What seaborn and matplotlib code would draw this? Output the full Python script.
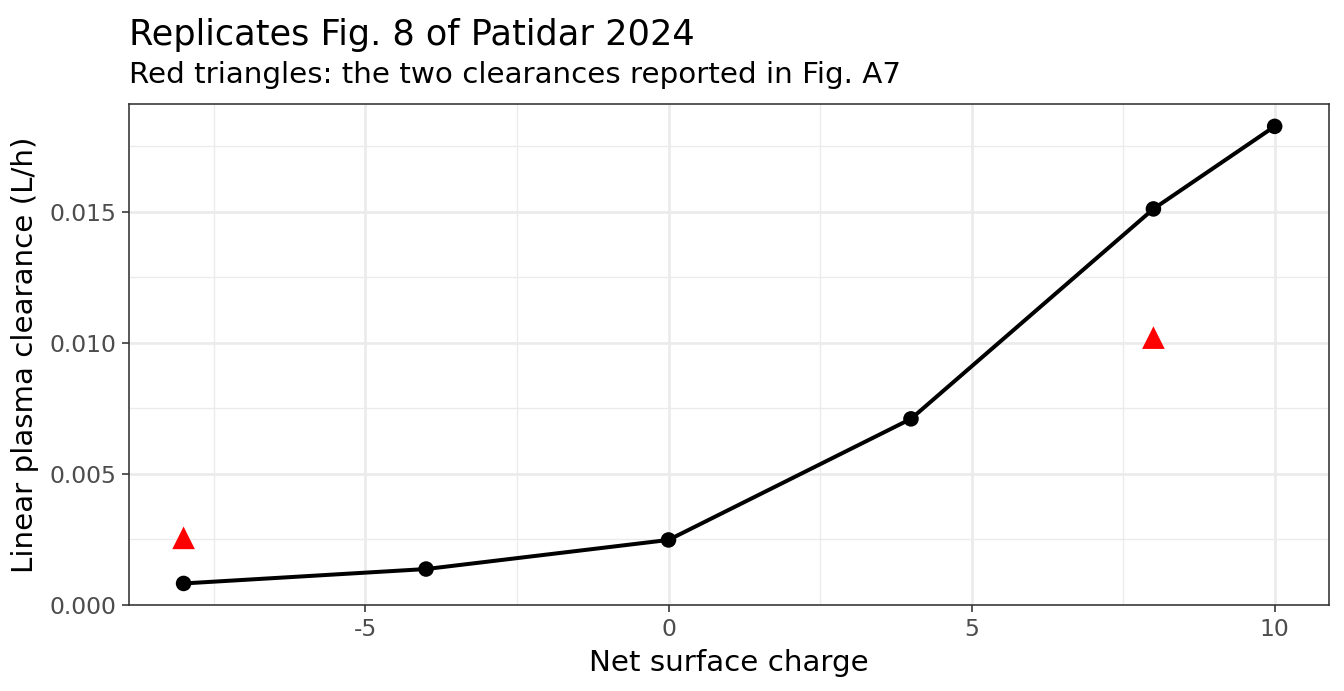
import seaborn as sns
import matplotlib.pyplot as plt
import pandas as pd
from matplotlib.ticker import MultipleLocator, FixedLocator

# values
charge = [-8, -4, 0, 4, 8, 10]
clearance = [0.00082, 0.00137, 0.00248, 0.0071, 0.01511, 0.01826]

reported_charge = [-8, 8]
reported_clearance = [0.00256, 0.0102]

x_ticks = [-5, 0, 5, 10]
y_ticks = [0.000, 0.005, 0.010, 0.015]

df = pd.DataFrame({'charge': charge, 'clearance': clearance})
df_rep = pd.DataFrame({'charge': reported_charge, 'clearance': reported_clearance})

sns.set_theme(style="white")
plt.rcParams['font.family'] = ['DejaVu Sans']
plt.rcParams['text.color'] = 'black'

fig = plt.figure(figsize=(7, 3.6), dpi=192)
ax = fig.add_axes([0.096, 0.1245, 0.893, 0.725])

sns.lineplot(data=df, x='charge', y='clearance', color='black',
             linewidth=1.5, ax=ax, zorder=3)
sns.scatterplot(data=df, x='charge', y='clearance', color='black',
                s=34, edgecolor='none', ax=ax, zorder=4)
sns.scatterplot(data=df_rep, x='charge', y='clearance', color='red',
                marker='^', s=72, edgecolor='none', ax=ax, zorder=4)

ax.set_xlim(-8.9, 10.9)
ax.set_ylim(0, 0.01912)
ax.xaxis.set_major_locator(FixedLocator(x_ticks))
ax.yaxis.set_major_locator(FixedLocator(y_ticks))
ax.xaxis.set_minor_locator(MultipleLocator(2.5))
ax.yaxis.set_minor_locator(MultipleLocator(0.0025))
ax.set_yticklabels([f"{v:.3f}" for v in y_ticks])
ax.set_xticklabels([str(v) for v in x_ticks])

ax.grid(which='major', color='#EBEBEB', linewidth=1.0)
ax.grid(which='minor', color='#EBEBEB', linewidth=0.5)
ax.set_axisbelow(True)

for sp in ax.spines.values():
    sp.set_color('#333333')
    sp.set_linewidth(0.6)

ax.tick_params(which='major', direction='out', length=2.75, width=0.6,
               color='#333333', labelcolor='#4D4D4D', labelsize=8.8, pad=2)
ax.tick_params(which='minor', length=0)
ax.tick_params(bottom=True, left=True)

ax.set_xlabel("Net surface charge", fontsize=11, color='black', labelpad=3)
ax.set_ylabel("Linear plasma clearance (L/h)", fontsize=11, color='black', labelpad=4)

fig.text(0.096, 0.935, "Replicates Fig. 8 of Patidar 2024", fontsize=13.2,
         ha='left', va='baseline', color='black')
fig.text(0.096, 0.88, "Red triangles: the two clearances reported in Fig. A7",
         fontsize=11, ha='left', va='baseline', color='black')

plt.savefig('out.png', dpi=192)
